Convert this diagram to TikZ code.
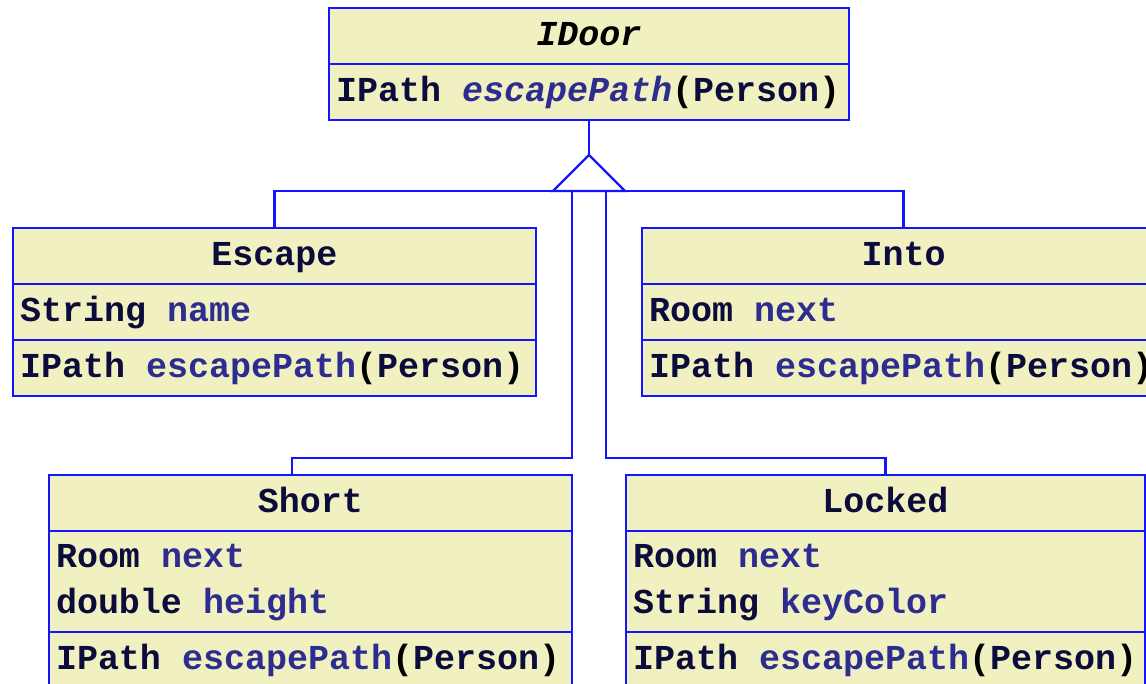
\documentclass[tikz,border=0pt]{standalone}
\usepackage{fontspec}
\setmonofont{Liberation Mono}
\usetikzlibrary{positioning}
\definecolor{umlline}{RGB}{20,20,255}
\definecolor{umlfill}{RGB}{240,240,192}
\definecolor{umltext}{RGB}{12,12,60}
\definecolor{umlattr}{RGB}{45,45,145}
\newcommand{\membername}[1]{\textcolor{umlattr}{#1}}
\newcommand{\argparen}[1]{\textcolor{black}{(}#1\textcolor{black}{)}}
\begin{document}
\begin{tikzpicture}[x=1pt,y=-1pt,
  compart/.style={draw=umlline,fill=umlfill,line width=2.3pt,outer sep=0pt,
    inner xsep=7pt,inner ysep=0pt,minimum height=56pt,text width=#1,
    font=\fontsize{35}{46}\selectfont\ttfamily\bfseries,text=umltext,align=left,
    anchor=north west,execute at begin node={\spaceskip=21pt\relax\strut},
    execute at end node=\strut},
  classhead/.style={compart=#1,align=center},
  link/.style={draw=umlline,line width=2.3pt}]
\useasboundingbox (0,0) rectangle (1146,684);
% interface
\node[classhead=506pt] (idoor) at (329,8) {\textcolor{black}{\itshape IDoor}};
\node[compart=506pt,below=0pt of idoor] (idoorops) {IPath \membername{\itshape escapePath}\argparen{Person}};
% classes
\node[classhead=509pt] (escape) at (13,228) {Escape};
\node[compart=509pt,below=0pt of escape] (escapeattr) {String \membername{name}};
\node[compart=509pt,below=0pt of escapeattr] (escapeops) {IPath \membername{escapePath}\argparen{Person}};
\node[classhead=509pt] (into) at (642,228) {Into};
\node[compart=509pt,below=0pt of into] (intoattr) {Room \membername{next}};
\node[compart=509pt,below=0pt of intoattr] (intoops) {IPath \membername{escapePath}\argparen{Person}};
\node[classhead=509pt] (short) at (49,475) {Short};
\node[compart=509pt,minimum height=101pt,below=0pt of short] (shortattr) {Room \membername{next}\\double \membername{height}};
\node[compart=509pt,below=0pt of shortattr] (shortops) {IPath \membername{escapePath}\argparen{Person}};
\node[classhead=505pt] (locked) at (626,475) {Locked};
\node[compart=505pt,minimum height=101pt,below=0pt of locked] (lockedattr) {Room \membername{next}\\String \membername{keyColor}};
\node[compart=505pt,below=0pt of lockedattr] (lockedops) {IPath \membername{escapePath}\argparen{Person}};
% generalisation
\coordinate (apex) at (589,155);
\coordinate (base) at (589,191);
\coordinate (leftdrop) at (572,191);
\coordinate (rightdrop) at (606,191);
\coordinate[right=243pt of short.north west] (shortin);
\draw[link] (idoorops.south) -- (apex);
\draw[link] (escape.north) |- (base) -| (into.north);
\draw[link] (apex) -- ++(-36,36) -- ++(72,0) -- cycle;
\draw[link] (leftdrop) -- ++(0,267) -| (shortin);
\draw[link] (rightdrop) -- ++(0,267) -| (locked.north);
\end{tikzpicture}
\end{document}
